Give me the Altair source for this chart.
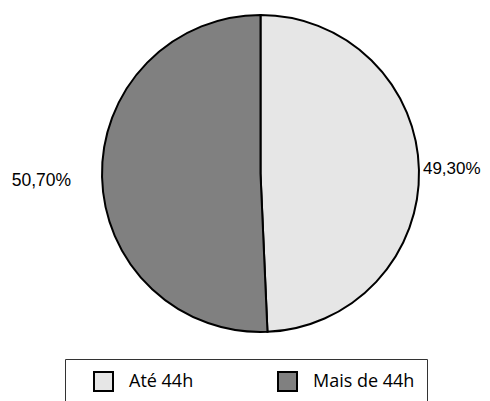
import altair as alt
import pandas as pd

categories = ["Até 44h", "Mais de 44h"]
values = [49.30, 50.70]
labels = ["49,30%", "50,70%"]
colors = ["#e6e6e6", "#808080"]
order = [0, 1]

df = pd.DataFrame({"cat": categories, "value": values, "label": labels, "ord": order})

CX, CY = 252.5, 165.5

base = alt.Chart(df).encode(
    theta=alt.Theta("value:Q", stack=True),
    order=alt.Order("ord:Q"),
    x=alt.value(CX),
    y=alt.value(CY),
)

pie = base.mark_arc(radius=158.5, stroke="black", strokeWidth=2).encode(
    color=alt.Color(
        "cat:N",
        scale=alt.Scale(domain=categories, range=colors),
        legend=alt.Legend(
            title=None,
            orient="none",
            legendX=57,
            legendY=351,
            direction="horizontal",
            labelExpr="datum.label + '   '",
        ),
    )
)

right_lbl = base.transform_calculate(
    t="datum.cat == 'Até 44h' ? datum.label : ''"
).mark_text(
    radius=162.5, align="left", baseline="middle", dy=-1,
    font="Liberation Sans", fontSize=17, color="black"
).encode(text="t:N")

left_lbl = base.transform_calculate(
    t="datum.cat == 'Mais de 44h' ? datum.label : ''"
).mark_text(
    radius=189.5, align="right", baseline="middle", dy=3,
    font="Liberation Sans", fontSize=17.5, color="black"
).encode(text="t:N")

chart = alt.layer(pie, right_lbl, left_lbl).properties(
    width=474, height=393, padding=0,
    autosize=alt.AutoSizeParams(type="none"),
).configure_view(stroke=None).configure_legend(
    strokeColor="#333333",
    padding=12,
    symbolType="square",
    symbolSize=361,
    symbolStrokeColor="black",
    symbolStrokeWidth=2,
    symbolOffset=16,
    labelFont="Open Sans",
    labelFontSize=18,
    labelColor="black",
    labelOffset=15,
    columnPadding=67,
)

chart.save("out.html", embed_options={"renderer": "svg", "actions": False})
